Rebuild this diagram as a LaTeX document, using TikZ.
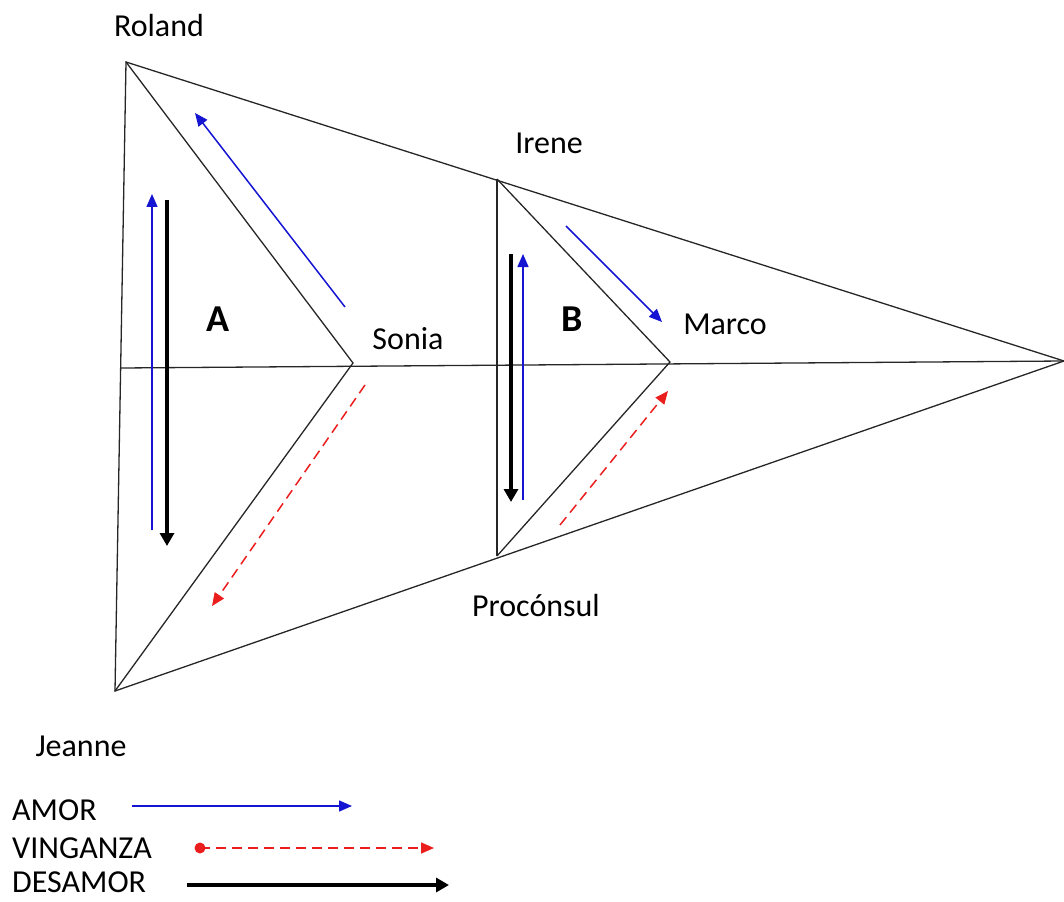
\documentclass[tikz,border=0pt]{standalone}
\usepackage{fontspec}
\setmainfont{Carlito}
\usetikzlibrary{arrows.meta}
\definecolor{amorblue}{RGB}{20,20,210}
\definecolor{vred}{RGB}{235,30,30}
\begin{document}
\begin{tikzpicture}[x=1pt,y=-1pt,
  edge/.style={draw=black!85,line width=1.3pt},
  lbl/.style={font=\fontsize{32}{36}\selectfont,inner sep=0pt},
  big/.style={font=\fontsize{38}{42}\selectfont\bfseries,inner sep=0pt},
  amor/.style={draw=amorblue,line width=1.5pt,-{Triangle[length=13pt,width=11pt]}},
  venganza/.style={draw=vred,line width=1.5pt,dash pattern=on 10pt off 6pt,-{Triangle[length=13pt,width=11pt]}},
  desamor/.style={draw=black,line width=3.8pt,-{Triangle[length=13pt,width=14pt]}}]
\useasboundingbox (0,0) rectangle (1064,901);
% vertices
\coordinate (R) at (126,62);
\coordinate (J) at (115,691);
\coordinate (T) at (1064,361);
\coordinate (S) at (353,363);
\coordinate (I) at (497,179);
\coordinate (P) at (497,556);
\coordinate (M) at (670,362);
\coordinate (H) at (121,368);
% frame
\draw[edge] (R) -- (T) -- (J) -- cycle;
\draw[edge] (R) -- (S) -- (J);
\draw[edge] (H) -- (T);
\draw[edge] (I) -- (P);
\draw[edge] (I) -- (M) -- (P);
% labels
\node[lbl] (lR) at (159,26) {Roland};
\node[lbl] (lI) at (549,143) {Irene};
\node[lbl] (lS) at (408,339) {Sonia};
\node[lbl] (lM) at (725,324) {Marco};
\node[lbl] (lP) at (536,606) {Procónsul};
\node[lbl] (lJ) at (81,746) {Jeanne};
\node[big] (lA) at (218,319) {A};
\node[big] (lB) at (572,319) {B};
% arrows A
\coordinate (a1s) at (152,530); \coordinate (a1e) at (152,194);
\coordinate (d1s) at (167,200); \coordinate (d1e) at (167,546);
\coordinate (a2s) at (345,307); \coordinate (a2e) at (195,113);
\coordinate (v1s) at (365,385); \coordinate (v1e) at (212,606);
\draw[amor] (a1s) -- (a1e);
\draw[desamor] (d1s) -- (d1e);
\draw[amor] (a2s) -- (a2e);
\draw[venganza] (v1s) -- (v1e);
% arrows B
\coordinate (d2s) at (511,254); \coordinate (d2e) at (511,502);
\coordinate (a3s) at (523,500); \coordinate (a3e) at (523,254);
\coordinate (a4s) at (566,226); \coordinate (a4e) at (662,322);
\coordinate (v2s) at (560,525); \coordinate (v2e) at (668,391);
\draw[desamor] (d2s) -- (d2e);
\draw[amor] (a3s) -- (a3e);
\draw[amor] (a4s) -- (a4e);
\draw[venganza] (v2s) -- (v2e);
% legend
\node[lbl,anchor=base west,text depth=0pt] (gA) at (12,820) {AMOR};
\node[lbl,anchor=base west,text depth=0pt] (gV) at (12,858) {VINGANZA};
\node[lbl,anchor=base west,text depth=0pt] (gD) at (12,892) {DESAMOR};
\coordinate (la1) at (132,806); \coordinate (la2) at (352,806);
\coordinate (lv1) at (200,848); \coordinate (lv2) at (434,848);
\coordinate (ld1) at (187,885); \coordinate (ld2) at (449,885);
\draw[amor] (la1) -- (la2);
\draw[venganza] (lv1) -- (lv2);
\fill[vred] (lv1) circle (5.5pt);
\draw[desamor] (ld1) -- (ld2);
\end{tikzpicture}
\end{document}
